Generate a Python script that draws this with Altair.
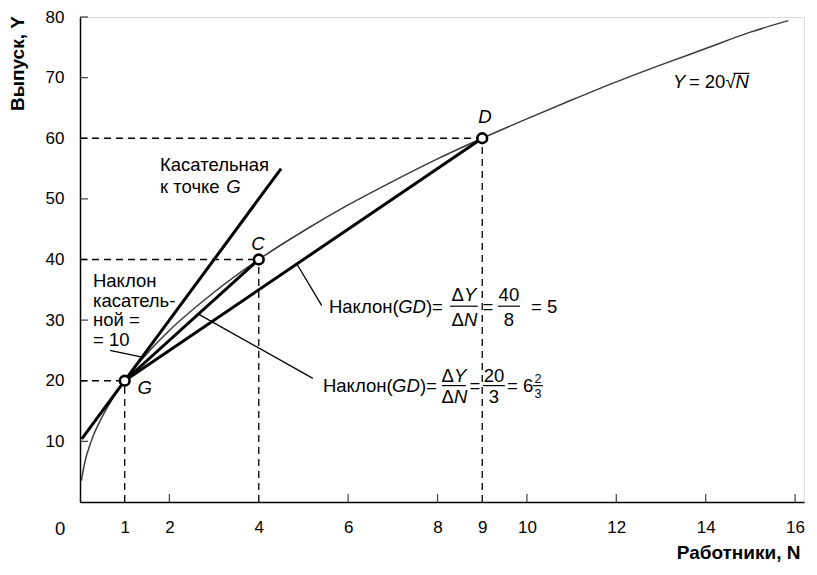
import altair as alt
import pandas as pd

FONT = "Liberation Sans"
FS = 18.5  # annotation font size
W, H = 724, 485

# ---- data -------------------------------------------------------------
# production function Y = 20*sqrt(N)
curve_N = [0.03, 0.1, 0.25, 0.5, 0.75, 1, 1.5, 2, 3, 4, 5, 6, 7, 8, 9, 10, 11, 12, 13, 14, 15, 15.85]
curve_Y = [3.5, 6.3, 10.0, 14.1, 17.3, 20.0, 24.5, 28.3, 34.6, 40.0, 44.7, 49.0, 52.9, 56.6, 60.0,
           63.2, 66.3, 69.3, 72.1, 74.8, 77.5, 79.4]

# key points G, C, D
pt_N = [1, 4, 9]
pt_Y = [20, 40, 60]
pt_lab = ["G", "C", "D"]
lab_N = [1.45, 3.98, 9.06]
lab_Y = [18.8, 42.6, 63.5]

# thick straight lines: tangent at G, chord GC, chord GD
seg_N1 = [0.04, 1, 1]
seg_Y1 = [10.4, 20, 20]
seg_N2 = [4.5, 4, 9]
seg_Y2 = [55.0, 40, 60]

# dashed guides
dash_N1 = [0, 1, 0, 4, 0, 9]
dash_Y1 = [20, 0, 40, 0, 60, 0]
dash_N2 = [1, 1, 4, 4, 9, 9]
dash_Y2 = [20, 20, 40, 40, 60, 60]

# leader lines
lead_N1 = [4.85, 2.65, 0.67]
lead_Y1 = [39.3, 31.0, 25.0]
lead_N2 = [5.41, 5.21, 1.39]
lead_Y2 = [32.4, 20.4, 23.9]

# axis ticks
x_tick_vals = [1, 2, 4, 6, 8, 9, 10, 12, 14, 16]
x_inner_ticks = [2, 6, 8, 10, 12, 14, 16]
y_tick_vals = [10, 20, 30, 40, 50, 60, 70, 80]

# texts (normal, left aligned)
tl_text = ["Касательная", "к точке", "Наклон", "касатель-", "ной =", "= 10",
           "Наклон(", ")=", "= 5", "Наклон(", ")=", "= 6", "= 20√"]
tl_N = [1.79, 1.79, 0.29, 0.29, 0.29, 0.29, 5.57, 7.74, 10.09, 5.436, 7.606, 9.553, 13.624]
tl_Y = [55.6, 52.0, 36.48, 33.21, 29.94, 26.67, 32.15, 32.15, 32.15, 19.06, 19.06, 19.06, 69.2]

# italic, left aligned
il_text = ["G", "GD", "GD", "Y", "N", "Y", "N", "Y", "N"]
il_N = [3.27, 7.119, 6.984, 13.266, 14.67, 8.59, 8.59, 8.367, 8.367]
il_Y = [52.0, 32.15, 19.06, 69.2, 69.2, 34.2, 30.1, 20.85, 17.3]

# normal, right aligned (delta signs)
dr_text = ["Δ", "Δ", "Δ", "Δ"]
dr_N = [8.59, 8.59, 8.367, 8.367]
dr_Y = [34.2, 30.1, 20.85, 17.3]

# normal, centred
nc_text = ["=", "40", "8", "=", "20", "3", "0"]
nc_N = [9.128, 9.597, 9.597, 8.836, 9.262, 9.262, -0.447]
nc_Y = [32.15, 34.2, 30.1, 19.06, 20.85, 17.3, -4.4]

# small fraction 2/3
sm_text = ["2", "3"]
sm_N = [10.247, 10.247]
sm_Y = [20.3, 17.8]

# fraction bars and overline of the root
bar_N1 = [8.28, 9.351, 8.099, 9.015, 10.135, 14.62]
bar_N2 = [8.90, 9.843, 8.636, 9.508, 10.359, 14.98]
bar_Y = [32.3, 32.3, 19.2, 19.2, 19.2, 70.7]

# ---- scales / axes -----------------------------------------------------
xs = alt.Scale(domain=[0, 16.2], nice=False, zero=False)
ys = alt.Scale(domain=[0, 80], nice=False, zero=False)

xaxis = alt.Axis(values=x_tick_vals, ticks=False, grid=False, labelPadding=17,
                 labelFont=FONT, labelFontSize=17, labelColor="black", labelFlush=False,
                 domainColor="black", domainWidth=1.5,
                 title="Работники, N", titleFont=FONT, titleFontSize=19,
                 titleFontWeight="bold", titleColor="black",
                 titleX=720, titleY=50, titleAlign="right", titleBaseline="middle")
yaxis = alt.Axis(values=y_tick_vals, ticks=False, grid=False, labelPadding=16,
                 labelFont=FONT, labelFontSize=17, labelColor="black", labelFlush=False,
                 domainColor="black", domainWidth=1.5,
                 title="Выпуск, Y", titleFont=FONT, titleFontSize=19,
                 titleFontWeight="bold", titleColor="black", titleAngle=270,
                 titleX=-63, titleY=46, titleAlign="center", titleBaseline="middle")


def X(f):
    return alt.X(f, type="quantitative", scale=xs, axis=xaxis)


def Y(f):
    return alt.Y(f, type="quantitative", scale=ys, axis=yaxis)


def seg_df(n1, y1, n2, y2):
    return pd.DataFrame({"N": n1, "Y": y1, "N2": n2, "Y2": y2})


def text_layer(txt, n, y, align="left", style="normal", size=FS):
    df = pd.DataFrame({"N": n, "Y": y, "t": txt})
    return alt.Chart(df).mark_text(align=align, baseline="middle", fontStyle=style,
                                   fontSize=size, font=FONT, color="black").encode(
        x=X("N"), y=Y("Y"), text="t:N")


dashes = alt.Chart(seg_df(dash_N1, dash_Y1, dash_N2, dash_Y2)).mark_rule(
    color="black", strokeWidth=1.3, strokeDash=[7, 5]).encode(
    x=X("N"), y=Y("Y"), x2="N2", y2="Y2")

curve = alt.Chart(pd.DataFrame({"N": curve_N, "Y": curve_Y})).mark_line(
    color="#3a3a3a", strokeWidth=1.5, interpolate="monotone").encode(x=X("N"), y=Y("Y"))

thick = alt.Chart(seg_df(seg_N1, seg_Y1, seg_N2, seg_Y2)).mark_rule(
    color="black", strokeWidth=3).encode(x=X("N"), y=Y("Y"), x2="N2", y2="Y2")

leaders = alt.Chart(seg_df(lead_N1, lead_Y1, lead_N2, lead_Y2)).mark_rule(
    color="black", strokeWidth=1.3).encode(x=X("N"), y=Y("Y"), x2="N2", y2="Y2")

bars = alt.Chart(pd.DataFrame({"N": bar_N1, "N2": bar_N2, "Y": bar_Y})).mark_rule(
    color="black", strokeWidth=1.2).encode(x=X("N"), x2="N2", y=Y("Y"))

xticks = alt.Chart(pd.DataFrame({"N": x_inner_ticks})).mark_tick(
    orient="vertical", color="black", size=8, thickness=1.3).encode(
    x=X("N"), y=alt.value(H - 4))
yticks = alt.Chart(pd.DataFrame({"Y": y_tick_vals})).mark_tick(
    orient="horizontal", color="black", size=8, thickness=1.3).encode(
    y=Y("Y"), x=alt.value(4))

points = alt.Chart(pd.DataFrame({"N": pt_N, "Y": pt_Y})).mark_point(
    shape="circle", filled=True, fill="white", stroke="black", strokeWidth=2.6,
    size=95, opacity=1).encode(x=X("N"), y=Y("Y"))

layers = [
    dashes, xticks, yticks, curve, thick, leaders, bars, points,
    text_layer(pt_lab, lab_N, lab_Y, align="center", style="italic"),
    text_layer(tl_text, tl_N, tl_Y, align="left"),
    text_layer(il_text, il_N, il_Y, align="left", style="italic"),
    text_layer(dr_text, dr_N, dr_Y, align="right"),
    text_layer(nc_text, nc_N, nc_Y, align="center"),
    text_layer(sm_text, sm_N, sm_Y, align="center", size=12.5),
]

chart = alt.layer(*layers).properties(
    width=W, height=H,
    autosize=alt.AutoSizeParams(type="none"),
    padding={"left": 72, "top": 9, "right": 5, "bottom": 60},
).configure_view(strokeWidth=0).configure(background="white")

chart.save("out.html", embed_options={"renderer": "svg", "actions": False})
